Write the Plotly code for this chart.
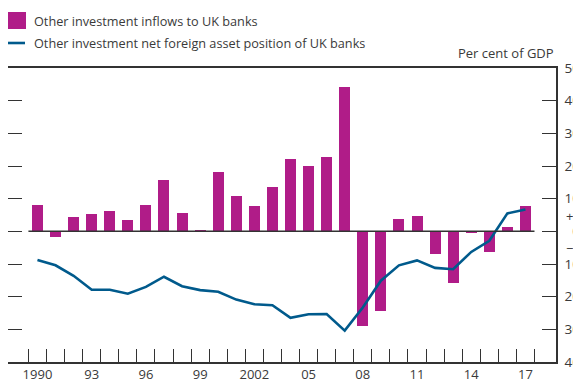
import plotly.graph_objects as go

years = list(range(1990, 2018))
inflows = [8.0, -1.6, 4.3, 5.2, 6.1, 3.4, 8.0, 15.6, 5.5, 0.5, 18.3, 10.9, 7.7, 13.7,
           22.0, 20.1, 22.9, 44.2, -28.9, -24.3, 3.9, 4.6, -7.0, -15.9, -0.5, -6.4, 1.2, 7.9]
net_position = [-8.8, -10.4, -13.6, -17.9, -17.9, -19.1, -17.0, -13.9, -16.8, -18.0, -18.5,
                -20.9, -22.3, -22.6, -26.5, -25.4, -25.3, -30.4, -23.3, -15.1, -10.4, -8.9,
                -11.2, -11.6, -6.3, -2.9, 5.5, 6.7]
x_label_years = [1990, 1993, 1996, 1999, 2002, 2005, 2008, 2011, 2014, 2017]
x_label_text = ["1990", "93", "96", "99", "2002", "05", "08", "11", "14", "17"]
y_vals = [-40, -30, -20, -10, 0, 10, 20, 30, 40, 50]
y_text = ["40", "30", "20", "10", "\u20070", "10", "20", "30", "40", "50"]

BAR = "#B01C88"
LINE = "#005A8C"
AX = "#333333"
TXT = "#3a3a3a"
FONT = "Open Sans"

fig = go.Figure()
fig.add_trace(go.Bar(x=years, y=inflows, width=0.61, marker=dict(color=BAR, line=dict(width=0)),
                     showlegend=False))
fig.add_trace(go.Scatter(x=years, y=net_position, mode="lines", line=dict(color=LINE, width=2.6),
                         showlegend=False, yaxis="y2"))

xmin, xmax = 1988.37, 2018.69
half_ticks = [y - 0.5 for y in years] + [years[-1] + 0.5]

# page has an 8px body margin; figure sized to fit the 581x380 window without overflow
W, HT = 573, 372
T, B_EDGE, H = 60, 354, 294

def py(fy):
    return (B_EDGE - fy) / H

fig.update_layout(
    width=W, height=HT,
    margin=dict(l=0, r=W - 548, t=T, b=HT - B_EDGE),
    paper_bgcolor="white", plot_bgcolor="white",
    font=dict(family=FONT, size=13, color=TXT),
    showlegend=False,
    bargap=0,
    xaxis=dict(range=[xmin, xmax], showgrid=False, zeroline=False, automargin=False,
               showline=True, linecolor=AX, linewidth=1.5, mirror=True,
               tickmode="array", tickvals=x_label_years, ticktext=x_label_text,
               ticks="", tickfont=dict(family=FONT, size=13, color=TXT),
               minor=dict(tickmode="array", tickvals=half_ticks, ticks="inside",
                          ticklen=13, tickwidth=1.3, tickcolor=AX, showgrid=False)),
    yaxis=dict(range=[-40, 50], showgrid=False, zeroline=False, automargin=False,
               showline=True, linecolor=AX, linewidth=1.5, side="left",
               tickmode="array", tickvals=y_vals, ticks="inside", ticklen=14,
               tickwidth=1.3, tickcolor=AX, showticklabels=False),
    yaxis2=dict(range=[-40, 50], overlaying="y", side="right", showgrid=False, automargin=False,
                zeroline=False, showline=True, linecolor=AX, linewidth=1.5,
                tickmode="array", tickvals=y_vals, ticktext=y_text, ticks="inside",
                ticklen=14, tickwidth=1.3, tickcolor=AX, ticklabelstandoff=4,
                tickfont=dict(family=FONT, size=13.5, color=TXT)),
)

# zero line
fig.add_shape(type="line", xref="x", yref="y", x0=half_ticks[0], x1=half_ticks[-1], y0=0, y1=0,
              line=dict(color=AX, width=1.5), layer="above")

# +/- signs near zero on the right axis
fig.add_annotation(xref="paper", yref="y", x=1, y=4.8, text="+", showarrow=False, height=9,
                   xanchor="left", xshift=8, font=dict(family=FONT, size=13, color=TXT))
fig.add_annotation(xref="paper", yref="y", x=1, y=-5.1, text="\u2212", showarrow=False, height=9,
                   xanchor="left", xshift=8, font=dict(family=FONT, size=13, color=TXT))

# unit label
fig.add_annotation(xref="paper", yref="paper", x=1, y=py(45), text="Per cent of GDP",
                   showarrow=False, xanchor="right", yanchor="middle",
                   font=dict(family=FONT, size=13, color=TXT))

# legend (manual)
fig.add_shape(type="rect", xref="paper", yref="paper", x0=-1 / 548, x1=18 / 548,
              y0=py(21), y1=py(4), fillcolor=BAR, line=dict(width=0))
fig.add_shape(type="line", xref="paper", yref="paper", x0=-1 / 548, x1=17 / 548,
              y0=py(35), y1=py(35), line=dict(color=LINE, width=2.6))
fig.add_annotation(xref="paper", yref="paper", x=24 / 548, y=py(12.5),
                   text="Other investment inflows to UK banks", showarrow=False,
                   xanchor="left", yanchor="middle", font=dict(family=FONT, size=12.7, color=TXT))
fig.add_annotation(xref="paper", yref="paper", x=24 / 548, y=py(35),
                   text="Other investment net foreign asset position of UK banks", showarrow=False,
                   xanchor="left", yanchor="middle", font=dict(family=FONT, size=12.7, color=TXT))

fig.write_html("out.html")
